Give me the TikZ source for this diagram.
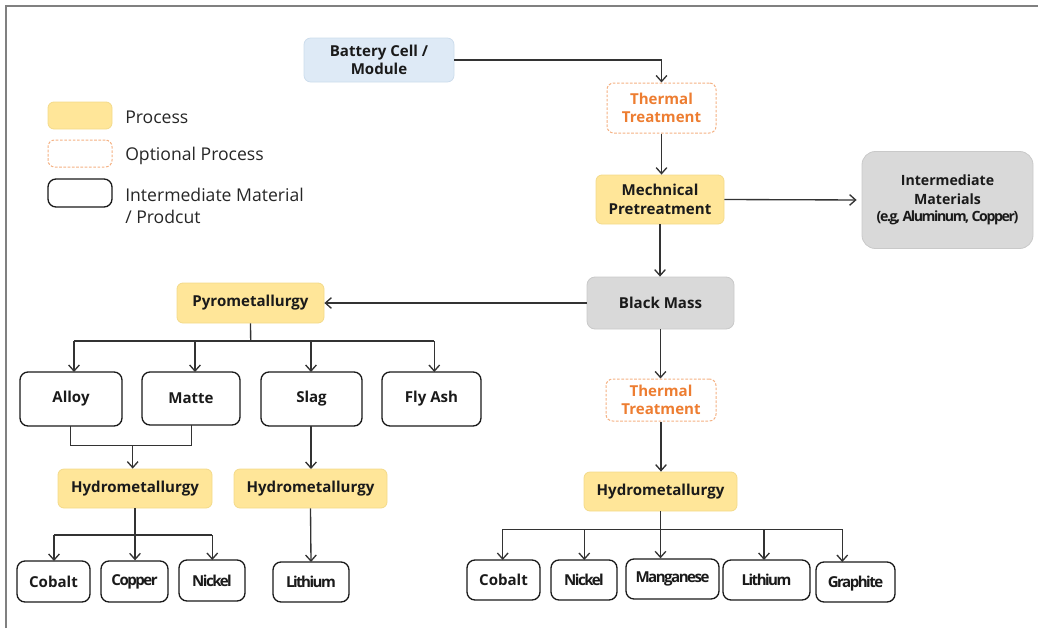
\documentclass[tikz,border=0pt]{standalone}
\usepackage{fontspec}
\setmainfont{Open Sans}
\newfontfamily\condfont[LetterSpace=-10]{Open Sans}
\usetikzlibrary{arrows.meta}
\definecolor{procfill}{HTML}{FFE699}
\definecolor{procline}{HTML}{F3DA8A}
\definecolor{greyfill}{HTML}{D9D9D9}
\definecolor{greyline}{HTML}{C9C9C9}
\definecolor{bluefill}{HTML}{DEEAF6}
\definecolor{blueline}{HTML}{CCDCEC}
\definecolor{optline}{HTML}{F4B183}
\definecolor{opttext}{HTML}{ED7D31}
\definecolor{ink}{HTML}{1A1A1A}
\definecolor{legink}{HTML}{262626}
\definecolor{wire}{HTML}{333333}
\definecolor{frame}{HTML}{808080}
\tikzset{
  sz/.style 2 args={minimum width=#1*0.75pt, minimum height=#2*0.75pt},
  base/.style={inner sep=0pt, align=center, text=ink, font=\bfseries\fontsize{11.3}{14}\selectfont},
  procbox/.style={base, fill=procfill, draw=procline, line width=0.6pt, rounded corners=4.5pt},
  greybox/.style={base, fill=greyfill, draw=greyline, line width=0.6pt, rounded corners=6pt},
  bluebox/.style={base, fill=bluefill, draw=blueline, line width=0.6pt, rounded corners=5pt},
  optbox/.style={base, draw=optline, dashed, dash pattern=on 2pt off 1.2pt, line width=0.75pt, rounded corners=5pt, text=opttext},
  matbox/.style={base, fill=white, draw=ink, line width=1pt, rounded corners=6pt},
  cond/.style={font=\bfseries\condfont\fontsize{11.3}{13}\selectfont},
  legtext/.style={anchor=west, inner sep=0pt, text=legink, align=left, font=\fontsize{13.2}{16.3}\selectfont},
  flow/.style={draw=wire, line width=1pt, -{Straight Barb[length=4.5pt,width=8pt,line width=1pt]}},
  link/.style={draw=wire, line width=1pt},
}
\begin{document}
\begin{tikzpicture}[x=0.75pt,y=-0.75pt]
\useasboundingbox (0,0) rectangle (1038,628);
% frame of the figure
\draw[frame, line width=1.5pt] (6,628) -- (6,6) -- (1038,6);

% legend
\node[procbox, sz={64}{27}] (lg1) at (80,115.5) {};
\node[optbox, sz={64}{27}] (lg2) at (80,153.5) {};
\node[matbox, sz={64}{28}] (lg3) at (80,193) {};
\node[legtext] (lt1) at (125,117) {Process};
\node[legtext] (lt2) at (125,155.5) {Optional Process};
\node[legtext] (lt3) at (125,206) {Intermediate Material\\/ Prodcut};

% main chain
\node[bluebox, sz={150}{44}] (bat) at (379,60) {Battery Cell /\\Module};
\node[optbox, sz={109}{50}] (th1) at (661.5,108) {Thermal\\Treatment};
\node[procbox, sz={128}{49}] (mech) at (660,199.5) {Mechnical\\Pretreatment};
\node[greybox, sz={171}{97}, rounded corners=10pt, font=\bfseries\fontsize{10.6}{14}\selectfont] (inter) at (947.5,200) {Intermediate\\Materials\\[-1pt]{\condfont\fontsize{10.6}{13}\selectfont(e.g, Aluminum, Copper)}};
\node[greybox, sz={147}{52}] (bm) at (660.5,303) {Black Mass};
\node[procbox, sz={147}{40}] (pyro) at (250.5,303) {Pyrometallurgy};
\node[optbox, sz={110}{42}] (th2) at (661,400) {Thermal\\Treatment};
\node[procbox, sz={153}{39}] (hyd3) at (660.5,491.5) {Hydrometallurgy};

% pyrometallurgy products
\node[matbox, sz={102}{54}] (alloy) at (71,399) {Alloy};
\node[matbox, sz={98}{53}] (matte) at (191,398.5) {Matte};
\node[matbox, sz={101}{54}] (slag) at (311.5,399) {Slag};
\node[matbox, sz={99}{54}] (fly) at (431.5,399) {Fly Ash};
\node[procbox, sz={154}{39}] (hyd1) at (135,488.5) {Hydrometallurgy};
\node[procbox, sz={153}{39}] (hyd2) at (310.5,488.5) {Hydrometallurgy};
\node[matbox, sz={73}{41}] (cob1) at (53.5,581.5) {Cobalt};
\node[matbox, cond, sz={67}{41}] (cop1) at (134.5,581.5) {Copper};
\node[matbox, cond, sz={66}{41}] (nic1) at (212,580.5) {Nickel};
\node[matbox, cond, sz={76}{40}] (lit1) at (311,582) {Lithium};

% hydrometallurgy products
\node[matbox, sz={73}{40}] (cob2) at (503.5,580) {Cobalt};
\node[matbox, cond, sz={66}{40}] (nic2) at (584,580) {Nickel};
\node[matbox, cond, sz={93}{40}] (man2) at (672.5,579) {Manganese};
\node[matbox, cond, sz={87}{40}] (lit2) at (766.5,580) {Lithium};
\node[matbox, cond, sz={79}{40}, text depth=-3pt] (gra2) at (855.5,582) {Graphite};

% junction points
\coordinate (pyroBus) at (250.7,341);
\coordinate (amJoin) at (132.7,445.7);
\coordinate (h1Bus) at (135,535);
\coordinate (h3Bus) at (660.5,529.3);

% connectors of the main chain
\draw[flow] (bat.east) -| (th1.north);
\draw[flow] (th1.south) -- (th1.south |- mech.north);
\draw[flow, shorten >=5*0.75pt] (mech.east) -- (inter.west);
\draw[flow] (mech.south) -- (mech.south |- bm.north);
\draw[flow] (bm.west) -- (pyro.east);
\draw[flow] (bm.south) -- (bm.south |- th2.north);
\draw[flow] (th2.south) -- (th2.south |- hyd3.north);

% pyrometallurgy tree
\draw[link] (pyro.south) -- (pyroBus);
\draw[link] (74,341) -- (434.3,341);
\draw[flow] (74,341) -- (74,372);
\draw[flow] (195,341) -- (195,372);
\draw[flow] (311,341) -- (311,372);
\draw[flow] (434.3,341) -- (434.3,372);

\draw[link] (70.7,426) |- (amJoin) -| (191.7,425);
\draw[flow] (amJoin) -- (amJoin |- hyd1.north);
\draw[flow] (311,426) -- (311,469);

\draw[link] (hyd1.south) -- (h1Bus);
\draw[link] (54,535) -- (212.3,535);
\draw[flow] (54,535) -- (54,561);
\draw[flow] (h1Bus) -- (h1Bus |- cop1.north);
\draw[flow] (212.3,535) -- (212.3,560);
\draw[flow] (hyd2.south) -- (311,562);

% hydrometallurgy tree
\draw[link] (hyd3.south) -- (h3Bus);
\draw[link] (502.7,529.3) -- (842.3,529.3);
\draw[flow] (502.7,529.3) -- (502.7,560);
\draw[flow] (584.3,529.3) -- (584.3,560);
\draw[flow] (h3Bus) -- (h3Bus |- man2.north);
\draw[flow] (764,529.3) -- (764,560);
\draw[flow] (842.3,529.3) -- (842.3,562);
\end{tikzpicture}
\end{document}
